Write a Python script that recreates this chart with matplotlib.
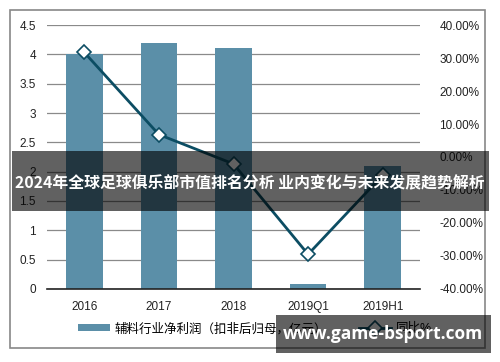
import matplotlib.pyplot as plt
from matplotlib.patches import Rectangle
from matplotlib.ticker import FuncFormatter

plt.rcParams['font.family'] = ['Liberation Sans', 'Noto Sans CJK SC', 'DejaVu Sans']

# dados
categorias = ['2016', '2017', '2018', '2019Q1', '2019H1']
lucro = [4.0, 4.2, 4.1, 0.09, 2.1]
variacao = [0.317, 0.068, -0.021, -0.295, -0.055]

titulo = '2024年全球足球俱乐部市值排名分析 业内变化与未来发展趋势解析'
marca = 'www.game-bsport.com'
nome_barra = '辅料行业净利润（扣非后归母，亿元）'
nome_linha = '同比%'

cor_barra = '#5b8fa8'
cor_linha = '#0c4d63'

fig = plt.figure(figsize=(5, 3.62), dpi=100)
ax = fig.add_axes([0.094, 0.2017, 0.746, 0.7292])

x = range(len(categorias))
barras = ax.bar(x, lucro, width=0.49, color=cor_barra, zorder=2, label=nome_barra)
ax.set_ylim(0, 4.5)
ax.set_yticks([0, 0.5, 1, 1.5, 2, 2.5, 3, 3.5, 4, 4.5])
ax.set_yticklabels(['0', '0.5', '1', '1.5', '2', '2.5', '3', '3.5', '4', '4.5'])
ax.set_xlim(-0.5, len(categorias) - 0.5)
ax.set_xticks(list(x))
ax.set_xticklabels(categorias)
ax.grid(axis='y', color='#8a8a8a', linewidth=0.9, zorder=0)
for s in ['top', 'right', 'left']:
    ax.spines[s].set_visible(False)
ax.spines['bottom'].set_color('#222222')
ax.spines['bottom'].set_linewidth(1.2)
ax.tick_params(length=0, labelsize=8.5, colors='#222222', pad=8)
ax.tick_params(axis='x', pad=9)

ax2 = ax.twinx()
linha, = ax2.plot(x, variacao, color=cor_linha, linewidth=2, marker='D',
                  markersize=7, markerfacecolor='white', markeredgecolor=cor_linha,
                  markeredgewidth=1.2, zorder=3, label=nome_linha)
ax2.set_ylim(-0.4, 0.4)
ax2.set_yticks([-0.4, -0.3, -0.2, -0.1, 0, 0.1, 0.2, 0.3, 0.4])
ax2.yaxis.set_major_formatter(FuncFormatter(lambda v, p: '%.2f%%' % (v * 100)))
for s in ax2.spines.values():
    s.set_visible(False)
ax2.tick_params(length=0, labelsize=8.5, colors='#222222', pad=14)

fig.legend([barras, linha], [nome_barra, nome_linha], loc='center',
           bbox_to_anchor=(0.51, 1 - 329 / 362), ncol=2, frameon=False,
           fontsize=9, handlelength=2.6, handleheight=0.5, columnspacing=2.5,
           handletextpad=0.4)

# moldura externa
fig.patches.append(Rectangle((10 / 500, 1 - 348 / 362), 475 / 500, 338 / 362,
                             transform=fig.transFigure, fill=False,
                             edgecolor='#888888', linewidth=1.2))

# faixa do título
fig.patches.append(Rectangle((12 / 500, 1 - 211 / 362), 477 / 500, 60 / 362,
                             transform=fig.transFigure, facecolor='black',
                             alpha=0.62, zorder=10))
fig.text(250 / 500, 1 - 183 / 362, titulo, ha='center', va='center',
         color='white', fontsize=11.4, fontweight='bold',
         family=['Noto Sans CJK SC', 'DejaVu Sans'], zorder=11)

# marca d'água
fig.patches.append(Rectangle((276 / 500, 1 - 353 / 362), 215 / 500, 38 / 362,
                             transform=fig.transFigure, facecolor='black',
                             alpha=0.62, zorder=10))
fig.text(383 / 500, 1 - 334 / 362, marca, ha='center', va='center',
         color='white', fontsize=12.5, fontweight='bold',
         family=['Open Sans', 'DejaVu Sans'], zorder=11)

fig.savefig('out.png', dpi=100)
